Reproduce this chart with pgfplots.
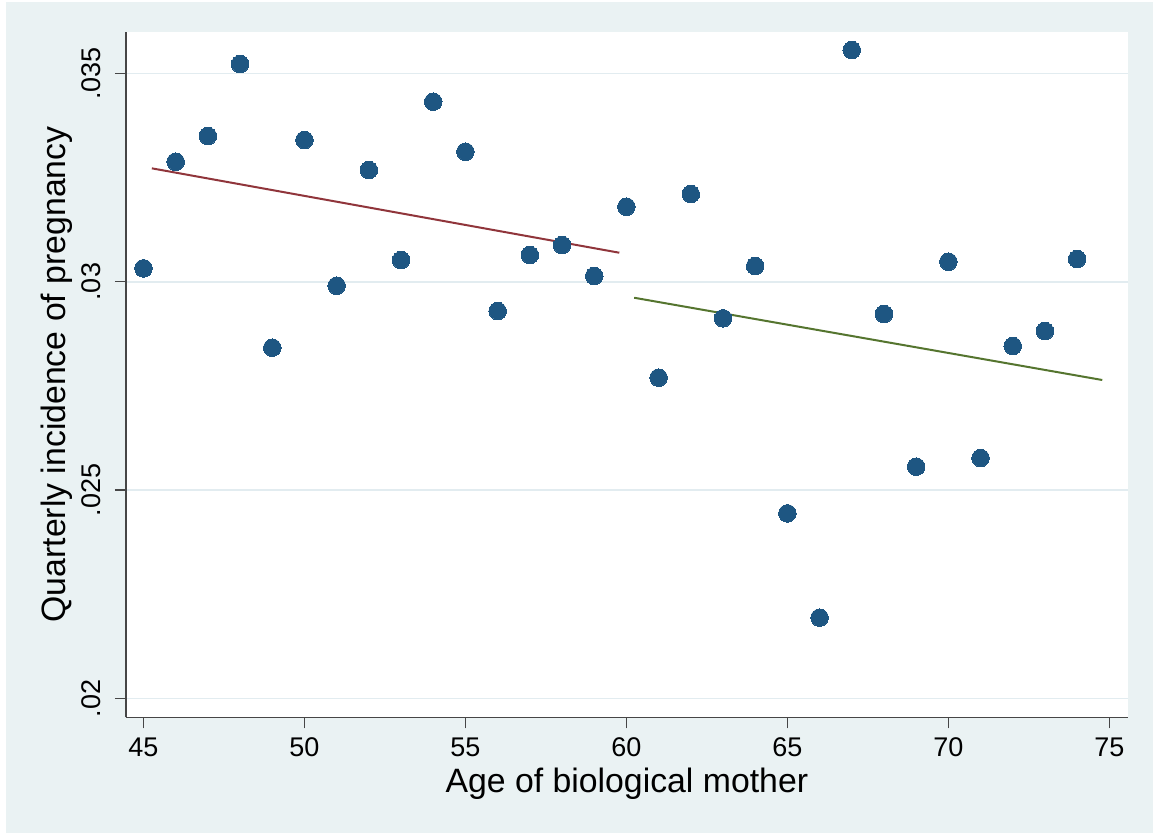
\documentclass[border=0pt]{standalone}
\usepackage{pgfplots}
\pgfplotsset{compat=1.18}
\usepackage{fontspec}
\setmainfont{Liberation Sans}
\definecolor{bgc}{RGB}{234,242,243}
\definecolor{gridc}{RGB}{226,236,240}
\definecolor{dotc}{RGB}{30,86,130}
\definecolor{redc}{RGB}{144,53,59}
\definecolor{greenc}{RGB}{85,117,47}
\definecolor{axc}{RGB}{70,70,70}
\begin{document}
\begin{tikzpicture}[x=1pt,y=1pt]
\fill[white] (0,0) rectangle (576.5,416.5);
\fill[bgc] (3,0) rectangle (576.5,415.5);
\begin{axis}[
  at={(63pt,57.85pt)}, anchor=south west,
  width=500.85pt, height=342.8pt, scale only axis,
  xmin=44.457, xmax=75.57, ymin=0.019549, ymax=0.036,
  axis lines*=left,
  axis line style={axc, line width=0.7pt},
  axis background/.style={fill=white},
  tick align=outside, major tick length=5.5pt,
  tick style={axc, line width=0.7pt},
  xtick={45,50,55,60,65,70,75},
  xticklabels={45,50,55,60,65,70,75},
  ytick={0.02,0.025,0.03,0.035},
  yticklabels={.02,.025,.03,.035},
  scaled y ticks=false,
  /pgf/number format/assume math mode=true,
  ymajorgrids, grid style={gridc, line width=0.8pt},
  tick label style={font=\fontsize{13.5}{15}\selectfont},
  xticklabel style={anchor=base, yshift=-14pt},
  yticklabel style={xshift=-7pt, rotate=90, anchor=base},
  label style={font=\fontsize{16.9}{19}\selectfont},
  xlabel={Age of biological mother},
  ylabel={Quarterly incidence of pregnancy},
  xlabel style={at={(axis description cs:0.5,-0.109)}, anchor=base},
  ylabel style={at={(axis description cs:-0.0599,0.5)}, anchor=base, rotate=0},
  clip=false,
]
\addplot[only marks, mark=*, mark size=4.4pt, mark options={fill=dotc, draw=dotc, line width=0pt}] coordinates {
(45,0.030322) (46,0.032879) (47,0.033496) (48,0.035223) (49,0.028417)
(50,0.033400) (51,0.029904) (52,0.032680) (53,0.030521) (54,0.034319)
(55,0.033119) (56,0.029297) (57,0.030641) (58,0.030880) (59,0.030137)
(60,0.031800) (61,0.027697) (62,0.032104) (63,0.029122) (64,0.030377)
(65,0.024443) (66,0.021939) (67,0.035559) (68,0.029225) (69,0.025562)
(70,0.030480) (71,0.025770) (72,0.028457) (73,0.028817) (74,0.030545)
};
\addplot[redc, line width=1pt] coordinates {(45.26,0.032721) (59.78,0.030696)};
\addplot[greenc, line width=1pt] coordinates {(60.24,0.029616) (74.78,0.027642)};
\end{axis}
\end{tikzpicture}
\end{document}
